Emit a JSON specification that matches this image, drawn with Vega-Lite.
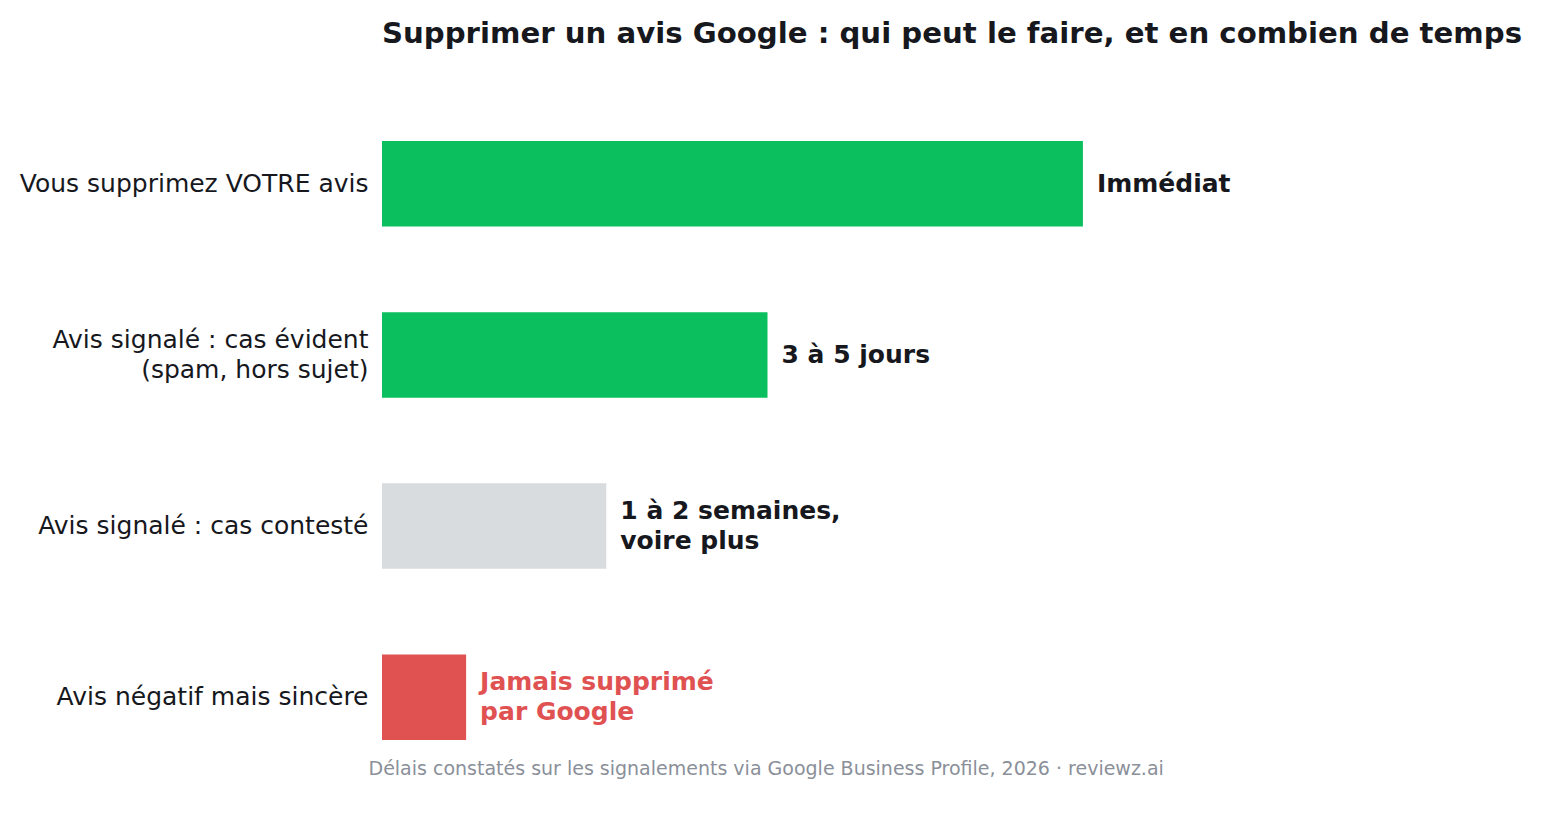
{
  "$schema": "https://vega.github.io/schema/vega-lite/v6.json",
  "width": 1139,
  "height": 599,
  "autosize": {"type": "none"},
  "padding": {"left": 382, "top": 141, "right": 20, "bottom": 80},
  "background": "#ffffff",
  "config": {
    "view": {"stroke": null},
    "font": "DejaVu Sans"
  },
  "title": {
    "text": "Supprimer un avis Google : qui peut le faire, et en combien de temps",
    "anchor": "start",
    "frame": "group",
    "font": "DejaVu Sans",
    "fontSize": 29.2,
    "fontWeight": "bold",
    "color": "#16181d",
    "baseline": "alphabetic",
    "offset": 69
  },
  "data": {
    "values": [
      {"cas": "Vous supprimez VOTRE avis", "delai": 100, "etiquette": "Immédiat", "statut": "rapide"},
      {"cas": "Avis signalé : cas évident\n(spam, hors sujet)", "delai": 55, "etiquette": "3 à 5 jours", "statut": "rapide"},
      {"cas": "Avis signalé : cas contesté", "delai": 32, "etiquette": "1 à 2 semaines,\nvoire plus", "statut": "incertain"},
      {"cas": "Avis négatif mais sincère", "delai": 12, "etiquette": "Jamais supprimé\npar Google", "statut": "jamais"}
    ]
  },
  "encoding": {
    "y": {
      "field": "cas",
      "type": "nominal",
      "sort": null,
      "scale": {"paddingInner": 0.5, "paddingOuter": 0},
      "axis": {
        "title": null,
        "domain": false,
        "ticks": false,
        "labelPadding": 14,
        "labelFontSize": 25,
        "labelColor": "#16181d",
        "labelFont": "DejaVu Sans",
        "labelLineHeight": 30,
        "labelLimit": 600,
        "labelOffset": {"condition": {"test": "indexof(datum.label, '\\n') >= 0", "value": -15}, "value": 0},
        "labelExpr": "split(datum.label, '\\n')"
      }
    },
    "x": {
      "field": "delai",
      "type": "quantitative",
      "scale": {"domain": [0, 162.5], "nice": false},
      "axis": {
        "domain": false,
        "ticks": false,
        "labels": false,
        "grid": false,
        "title": "Délais constatés sur les signalements via Google Business Profile, 2026 · reviewz.ai",
        "titleFont": "DejaVu Sans",
        "titleFontSize": 19,
        "titleFontWeight": "normal",
        "titleColor": "#8a8f99",
        "titleAnchor": "start",
        "titleAlign": "left",
        "titleBaseline": "middle",
        "titleX": -14,
        "titleY": 28
      }
    }
  },
  "layer": [
    {
      "mark": {"type": "bar"},
      "encoding": {
        "color": {
          "field": "statut",
          "type": "nominal",
          "scale": {"domain": ["rapide", "incertain", "jamais"], "range": ["#0bbf5f", "#d8dcdf", "#e05252"]},
          "legend": null
        }
      }
    },
    {
      "transform": [{"filter": "indexof(datum.etiquette, '\\n') < 0"}],
      "mark": {
        "type": "text",
        "align": "left",
        "baseline": "middle",
        "dx": 14,
        "fontSize": 25,
        "fontWeight": "bold",
        "font": "DejaVu Sans",
        "lineBreak": "\n",
        "lineHeight": 30
      },
      "encoding": {
        "text": {"field": "etiquette"},
        "color": {
          "field": "statut",
          "type": "nominal",
          "scale": {"domain": ["rapide", "incertain", "jamais"], "range": ["#16181d", "#16181d", "#e05252"]},
          "legend": null
        }
      }
    },
    {
      "transform": [{"filter": "indexof(datum.etiquette, '\\n') >= 0"}],
      "mark": {
        "type": "text",
        "align": "left",
        "baseline": "middle",
        "dx": 14,
        "dy": -15,
        "fontSize": 25,
        "fontWeight": "bold",
        "font": "DejaVu Sans",
        "lineBreak": "\n",
        "lineHeight": 30
      },
      "encoding": {
        "text": {"field": "etiquette"},
        "color": {
          "field": "statut",
          "type": "nominal",
          "scale": {"domain": ["rapide", "incertain", "jamais"], "range": ["#16181d", "#16181d", "#e05252"]},
          "legend": null
        }
      }
    }
  ],
  "resolve": {"scale": {"color": "independent"}}
}
